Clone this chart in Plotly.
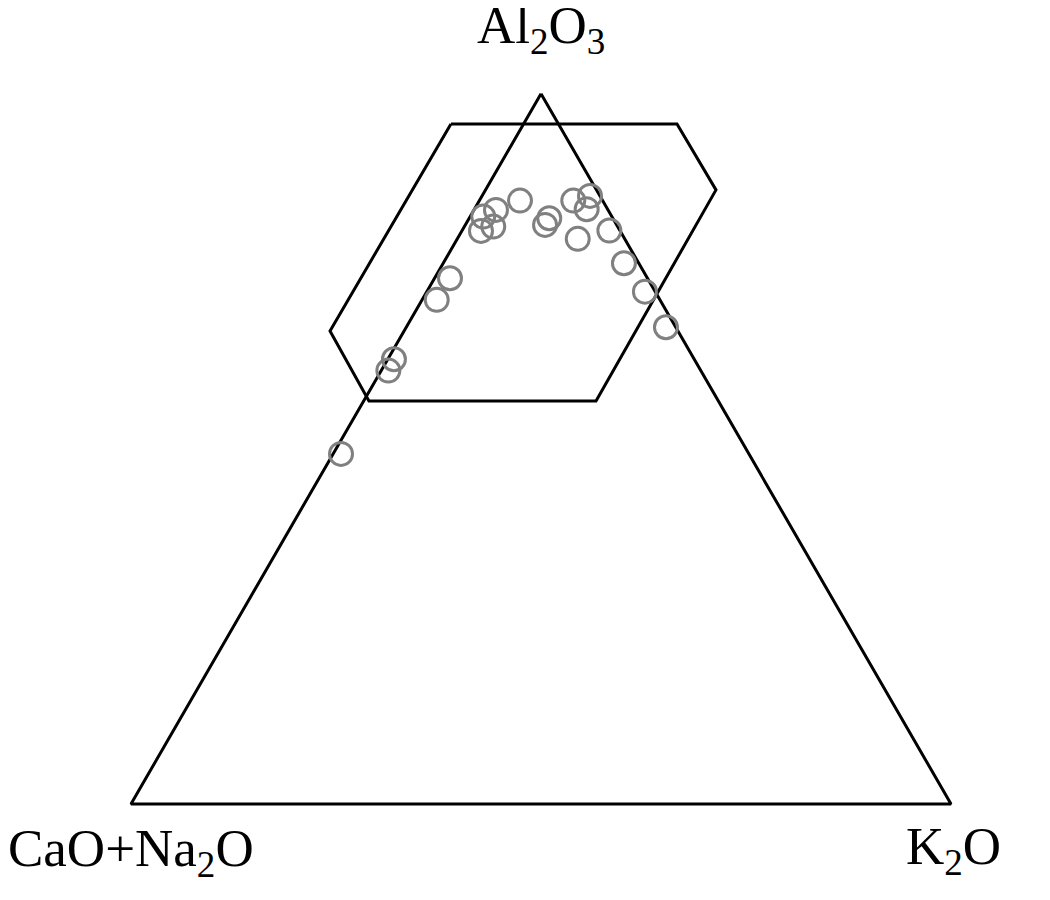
import math
import plotly.graph_objects as go

# Ternary compositions (percent): Al2O3 (top), CaO+Na2O (left), K2O (right)
al2o3 = [84.97, 83.66, 82.72, 81.31, 80.70, 82.49, 81.55, 84.97, 85.63, 83.76,
         79.58, 80.75, 76.15, 72.15, 67.14, 74.04, 70.99, 62.63, 61.03, 49.30]
cn = [10.08, 13.66, 15.68, 15.17, 16.97, 7.75, 8.73, 3.58, 1.21, 2.55,
      5.73, 1.29, 1.81, 1.25, 1.19, 24.08, 27.22, 36.62, 38.10, 49.74]
k2o = [4.95, 2.68, 1.60, 3.52, 2.33, 9.76, 9.72, 11.45, 13.16, 13.69,
       14.69, 17.96, 22.04, 26.60, 31.67, 1.88, 1.79, 0.75, 0.87, 0.96]

# Triangle frame vertices (Al2O3, CaO+Na2O, K2O)
tri_a = [100, 0, 0, 100]
tri_b = [0, 100, 0, 0]
tri_c = [0, 0, 100, 0]

# Hexagonal field (Al2O3, CaO+Na2O, K2O), may lie partly outside the triangle
hex_a = [95.77, 95.77, 86.48, 56.76, 56.76, 66.62, 95.77]
hex_b = [13.10, -14.47, -14.58, 14.91, 42.60, 42.42, 13.10]
hex_c = [-8.87, 18.70, 28.10, 28.33, 0.64, -9.04, -8.87]

labels = ["Al<sub>2</sub>O<sub>3</sub>", "CaO+Na<sub>2</sub>O", "K<sub>2</sub>O"]


def to_xy(a, b, c):
    xs, ys = [], []
    for ai, bi, ci in zip(a, b, c):
        s = ai + bi + ci
        xs.append((ci + ai / 2.0) / s)
        ys.append(ai / s * math.sqrt(3) / 2.0)
    return xs, ys


fig = go.Figure()

tx, ty = to_xy(tri_a, tri_b, tri_c)
fig.add_trace(go.Scatter(x=tx, y=ty, mode="lines",
                         line=dict(color="black", width=3),
                         hoverinfo="skip", showlegend=False))

hx, hy = to_xy(hex_a, hex_b, hex_c)
fig.add_trace(go.Scatter(x=hx, y=hy, mode="lines",
                         line=dict(color="black", width=3),
                         hoverinfo="skip", showlegend=False))

px_, py_ = to_xy(al2o3, cn, k2o)
fig.add_trace(go.Scatter(x=px_, y=py_, mode="markers",
                         marker=dict(symbol="circle-open", size=23, color="#808080",
                                     line=dict(width=3, color="#808080")),
                         showlegend=False, cliponaxis=False))

# page offset of the plot (body margin)
OFF = 8
font = dict(family="Liberation Serif, Times New Roman, serif", size=53, color="black")
annos = [
    dict(x=0.5, y=(804 - 29) / 820.0, text=labels[0]),
    dict(x=(130.5 - 131) / 820.0, y=(804 - 852) / 820.0, text=labels[1]),
    dict(x=(953 - 131) / 820.0, y=(804 - 850) / 820.0, text=labels[2]),
]
for an in annos:
    fig.add_annotation(x=an["x"], y=an["y"], xref="x", yref="y", text=an["text"],
                       showarrow=False, xanchor="center", yanchor="middle", font=font)

fig.update_xaxes(range=[(OFF - 131) / 820.0, (1050 + OFF - 131) / 820.0],
                 visible=False, showgrid=False, zeroline=False)
fig.update_yaxes(range=[(804 - 900 - OFF) / 820.0, (804 - OFF) / 820.0],
                 visible=False, showgrid=False, zeroline=False)
fig.update_layout(width=1050, height=900, margin=dict(l=0, r=0, t=0, b=0),
                  plot_bgcolor="white", paper_bgcolor="white", showlegend=False)

fig.write_html("out.html")
